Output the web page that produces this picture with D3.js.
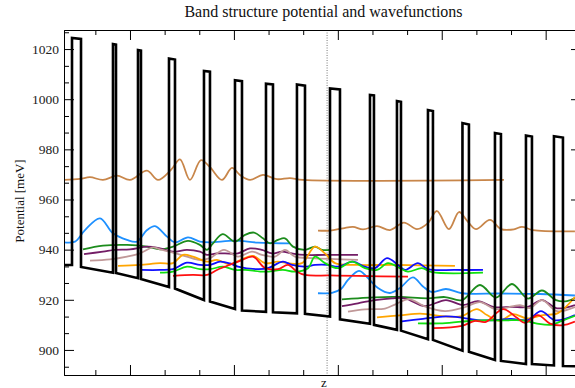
<!DOCTYPE html>
<html>
<head>
<meta charset="utf-8">
<script src="https://cdn.jsdelivr.net/npm/d3@7"></script>
<style>
  body { margin: 0; background: #fff; }
  svg { display: block; font-family: "Liberation Serif", "Times New Roman", serif; }
</style>
</head>
<body>
<svg id="chart" width="575" height="388"></svg>
<script>
// Axis ticks (z in nm, potential in meV)
const zTicksMajor = [20, 50, 80, 110, 140];
const zTicksMinor = [10, 30, 40, 60, 70, 90, 100, 120, 130, 150];
const vTicksMajor = [900, 920, 940, 960, 980, 1000, 1020];
const vTicksMinor = [893.3, 906.7, 913.3, 926.7, 933.3, 946.7, 953.3, 966.7, 973.3, 986.7, 993.3, 1006.7, 1013.3, 1026.7];
const interfaceZ = 76.9;

// Conduction band profile [z, V]
const potentialProfile = [
  [0.95, 933.9], [3.26, 933.9], [3.26, 1024.4], [5.86, 1024.0], [5.86, 933.1],
  [15.09, 930.8], [15.09, 1022.0], [15.96, 1021.8], [15.96, 930.7],
  [22.31, 928.6], [22.31, 1019.6], [23.17, 1019.4], [23.17, 928.3],
  [31.26, 925.1], [31.26, 1016.2], [32.99, 1015.8], [32.99, 924.5],
  [41.36, 919.9], [41.36, 1011.3], [43.09, 1011.0], [43.09, 919.3],
  [50.31, 916.3], [50.31, 1007.6], [52.33, 1007.2], [52.33, 915.7],
  [59.26, 915.2], [59.26, 1006.2], [61.28, 1005.9], [61.28, 915.0],
  [68.20, 914.6], [68.20, 1005.9], [70.52, 1005.4], [70.52, 914.4],
  [77.74, 913.3], [77.74, 1004.3], [80.62, 1003.9], [80.62, 912.2],
  [89.28, 910.4], [89.28, 1001.7], [90.43, 1001.5], [90.43, 910.0],
  [97.07, 908.0], [97.07, 999.3], [98.23, 999.0], [98.23, 907.7],
  [106.02, 904.3], [106.02, 995.7], [107.46, 995.3], [107.46, 904.0],
  [115.98, 899.7], [115.98, 990.5], [117.85, 989.9], [117.85, 899.3],
  [125.36, 896.0], [125.36, 986.5], [127.09, 986.1], [127.09, 895.6],
  [134.31, 894.4], [134.31, 985.5], [136.04, 985.1], [136.04, 894.4],
  [142.39, 893.8], [142.39, 985.2], [144.99, 984.7], [144.99, 893.6],
  [150.2, 893.4]
];

// Wavefunctions, left group
const leftBrown = [[0.95, 967.8], [5.57, 968.2], [8.45, 968.9], [12.20, 967.8], [16.25, 969.5], [20.0, 967.8],
  [24.91, 971.5], [28.08, 967.8], [31.83, 971.8], [34.43, 976.0], [37.32, 967.8], [40.49, 975.7], [43.09, 972.9],
  [46.55, 967.8], [49.44, 972.6], [51.75, 969.8], [54.64, 967.8], [58.39, 969.8], [62.43, 968.1], [66.18, 968.5],
  [69.94, 967.8], [127.96, 967.8]];
const leftSky = [[0.95, 942.9], [4.12, 943.2], [7.01, 947.8], [11.34, 952.5], [15.09, 946.5], [19.13, 943.9],
  [22.02, 943.2], [24.91, 947.8], [27.22, 949.4], [30.68, 945.2], [32.99, 942.9], [36.74, 944.9], [40.20, 943.2],
  [43.09, 942.9], [50.31, 943.6], [56.95, 942.8], [66.18, 942.5]];
const leftGreen = [[6.43, 940.1], [12.20, 941.6], [19.13, 941.9], [24.91, 941.2], [28.66, 940.1], [32.41, 941.2],
  [36.74, 943.5], [40.20, 941.9], [42.23, 939.9], [43.96, 942.5], [46.76, 946.2], [50.31, 943.2], [53.20, 945.9],
  [55.79, 946.8], [58.39, 944.5], [60.41, 942.5], [62.72, 943.9], [64.74, 944.5], [67.05, 941.2], [70.52, 939.9],
  [73.40, 941.2], [75.42, 939.9], [77.73, 939.9]];
const leftPurple = [[6.72, 938.2], [12.20, 939.2], [15.67, 939.9], [20.00, 940.1], [25.19, 941.2], [28.66, 940.5],
  [32.41, 939.2], [36.45, 939.9], [40.20, 939.2], [42.23, 937.9], [45.11, 938.5], [47.42, 938.5], [51.18, 938.5],
  [54.64, 940.5], [58.10, 939.9], [61.01, 938.5], [63.88, 939.2], [66.76, 938.5], [70.52, 937.9], [76.29, 937.9],
  [85.81, 937.9]];
const leftRose = [[8.45, 935.6], [14.22, 936.1], [19.13, 937.2], [22.89, 938.5], [26.64, 940.9], [28.66, 940.1],
  [32.41, 938.8], [36.45, 937.2], [40.20, 935.9], [43.09, 936.6], [47.13, 939.9], [51.17, 937.2], [55.21, 939.2],
  [58.10, 937.9], [61.86, 937.2], [64.74, 939.9], [67.63, 937.2], [72.53, 936.6], [85.81, 935.9]];
const leftOrange = [[16.53, 933.5], [22.89, 933.9], [28.66, 934.6], [32.41, 934.6], [35.30, 937.9], [38.18, 937.2],
  [42.23, 935.2], [45.11, 935.9], [48.86, 934.1], [50.89, 935.2], [55.50, 937.5], [58.97, 934.6], [62.72, 935.2],
  [65.61, 934.6], [69.65, 934.6], [73.40, 941.2], [76.29, 938.5], [79.18, 934.6], [85.81, 933.9], [96.49, 933.9],
  [113.81, 933.5]];
const leftBlue = [[23.38, 931.9], [28.66, 931.9], [32.41, 932.2], [36.45, 934.8], [40.20, 933.9], [43.09, 933.9],
  [45.98, 935.2], [48.86, 934.5], [51.17, 933.2], [56.95, 932.2], [59.83, 932.6], [64.16, 935.2], [66.76, 933.9],
  [70.52, 933.2], [73.40, 933.9], [77.15, 933.9], [80.04, 933.2], [84.37, 935.2], [87.83, 933.2], [90.72, 932.6],
  [94.18, 936.6], [97.36, 933.9], [99.38, 931.9], [103.13, 934.6], [106.02, 932.2], [113.81, 931.9], [121.90, 931.9]];
const leftLime = [[28.66, 930.8], [32.41, 931.2], [36.45, 933.2], [40.20, 932.2], [43.09, 932.2], [46.84, 933.2],
  [50.31, 931.9], [53.20, 931.9], [58.97, 931.2], [64.16, 931.9], [67.63, 931.2], [71.38, 932.6], [73.40, 937.2],
  [76.29, 934.6], [80.04, 932.6], [84.08, 935.2], [87.83, 932.6], [91.30, 931.9], [94.47, 934.6], [97.94, 932.6],
  [100.25, 931.2], [104.29, 932.6], [107.17, 931.0], [121.90, 930.8]];
const leftRed = [[32.41, 929.5], [38.18, 929.9], [42.23, 929.9], [45.11, 931.9], [47.42, 933.2], [51.75, 935.5],
  [55.50, 937.2], [58.97, 932.7], [62.72, 932.2], [65.61, 933.9], [68.20, 931.2], [70.52, 929.9], [77.73, 929.7],
  [85.81, 929.5], [100.25, 929.2]];

// Wavefunctions, right group
const rightBrown = [[74.27, 947.6], [77.73, 947.6], [81.48, 948.5], [84.37, 949.1], [87.26, 948.1], [91.30, 949.4],
  [95.05, 947.8], [99.09, 950.8], [102.84, 948.2], [106.02, 950.6], [108.62, 955.4], [112.08, 948.2], [114.97, 955.0],
  [117.28, 951.6], [119.88, 948.2], [123.92, 951.9], [127.09, 948.2], [130.84, 948.1], [133.16, 949.1], [136.33, 947.8],
  [148.45, 947.3]];
const rightSky = [[74.27, 922.6], [78.31, 922.8], [80.91, 924.3], [82.93, 927.9], [86.10, 931.5], [88.41, 929.1],
  [91.59, 924.7], [95.05, 922.7], [97.94, 924.7], [101.69, 928.9], [104.58, 925.3], [107.17, 923.1], [111.21, 924.3],
  [115.84, 922.6], [126.80, 922.5], [138.35, 922.3], [148.45, 921.7]];
const rightGreen = [[81.19, 920.2], [85.81, 920.6], [90.72, 921.0], [97.94, 921.1], [106.02, 920.6], [110.93, 921.1],
  [115.84, 919.9], [121.03, 925.9], [125.65, 920.9], [130.27, 926.3], [134.88, 920.5], [138.93, 923.7], [142.97, 919.9],
  [146.15, 919.5], [148.45, 920.7]];
const rightPurple = [[81.19, 917.5], [85.81, 918.6], [90.72, 919.9], [95.63, 920.6], [99.38, 920.6], [105.15, 917.5],
  [111.21, 919.9], [116.12, 917.9], [120.45, 919.5], [125.07, 917.1], [130.27, 917.2], [134.88, 917.2], [138.93, 919.9],
  [143.26, 916.6], [148.45, 917.9]];
const rightRose = [[82.93, 915.3], [87.83, 916.2], [93.61, 916.5], [96.78, 918.3], [100.53, 920.3], [104.86, 917.5],
  [110.93, 915.5], [116.70, 917.1], [121.03, 919.1], [125.36, 916.3], [128.25, 916.7], [132.58, 917.9], [135.46, 916.7],
  [138.93, 919.9], [143.26, 915.5], [148.45, 917.1]];
const rightOrange = [[91.30, 913.0], [97.94, 913.8], [103.71, 914.5], [106.60, 914.1], [111.50, 913.3], [115.84, 913.5],
  [120.16, 916.3], [123.05, 913.9], [126.80, 911.6], [130.55, 914.3], [134.60, 912.6], [139.22, 913.9], [143.55, 914.7],
  [148.45, 921.1]];
const rightBlue = [[97.94, 911.3], [104.58, 912.4], [111.21, 913.4], [116.12, 912.8], [120.45, 911.9], [125.65, 911.9],
  [129.98, 912.4], [134.88, 911.9], [138.64, 915.5], [142.68, 911.8], [148.45, 913.9]];
const rightLime = [[103.13, 910.6], [109.48, 910.6], [115.84, 911.3], [121.61, 911.8], [128.25, 911.8], [133.16, 911.8],
  [137.19, 910.6], [141.53, 910.0], [144.70, 911.6], [148.45, 913.6]];
const rightRed = [[107.46, 908.7], [115.84, 909.6], [119.59, 911.6], [122.76, 911.2], [127.67, 916.3], [131.71, 912.8],
  [134.02, 910.8], [137.78, 913.9], [141.24, 910.5], [144.70, 909.8], [148.45, 911.3]];

const stateColors = {
  brown: '#c8864a', sky: '#1e90ff', green: '#1c8c1c', purple: '#731d66', rose: '#c09898',
  orange: '#ffa500', blue: '#1010ff', lime: '#10e010', red: '#ff1010'
};

const wavefunctions = [
  { data: leftBrown, color: stateColors.brown }, { data: rightBrown, color: stateColors.brown },
  { data: leftSky, color: stateColors.sky }, { data: rightSky, color: stateColors.sky },
  { data: leftGreen, color: stateColors.green }, { data: rightGreen, color: stateColors.green },
  { data: leftPurple, color: stateColors.purple }, { data: rightPurple, color: stateColors.purple },
  { data: leftRose, color: stateColors.rose }, { data: rightRose, color: stateColors.rose },
  { data: leftOrange, color: stateColors.orange }, { data: rightOrange, color: stateColors.orange },
  { data: leftBlue, color: stateColors.blue }, { data: rightBlue, color: stateColors.blue },
  { data: leftLime, color: stateColors.lime }, { data: rightLime, color: stateColors.lime },
  { data: leftRed, color: stateColors.red }, { data: rightRed, color: stateColors.red }
];

// Layout
const plot = { left: 64, right: 581, top: 30, bottom: 375 };
const svg = d3.select('#chart');

const x = d3.scaleLinear().domain([0.95, 150.2]).range([plot.left, plot.right]);
const y = d3.scaleLinear().domain([890, 1027.6]).range([plot.bottom, plot.top]);

svg.append('defs').append('clipPath').attr('id', 'plot-clip')
  .append('rect')
  .attr('x', plot.left).attr('y', plot.top)
  .attr('width', plot.right - plot.left).attr('height', plot.bottom - plot.top);

const marks = svg.append('g').attr('clip-path', 'url(#plot-clip)');

// Dotted marker line
marks.append('line')
  .attr('x1', x(interfaceZ)).attr('x2', x(interfaceZ))
  .attr('y1', plot.top).attr('y2', plot.bottom)
  .attr('stroke', '#777').attr('stroke-width', 1).attr('stroke-dasharray', '1,1.5');

const waveLine = d3.line()
  .x(d => x(d[0])).y(d => y(d[1]))
  .curve(d3.curveCatmullRom.alpha(0.5));

marks.selectAll('.psi')
  .data(wavefunctions)
  .enter()
  .append('path')
  .attr('class', 'psi')
  .attr('d', d => waveLine(d.data))
  .attr('fill', 'none')
  .attr('stroke', d => d.color)
  .attr('stroke-width', 1.8);

const bandLine = d3.line().x(d => x(d[0])).y(d => y(d[1]));

marks.append('path')
  .attr('d', bandLine(potentialProfile))
  .attr('fill', 'none')
  .attr('stroke', '#000')
  .attr('stroke-width', 2.6)
  .attr('stroke-linejoin', 'miter');

// Axes: ticks point inward on all four sides
function drawAxis(axis, transform, withLabels) {
  const g = svg.append('g').attr('transform', transform).call(axis);
  g.selectAll('path.domain').attr('stroke', '#000');
  g.selectAll('.tick line').attr('stroke', '#000');
  g.selectAll('text')
    .attr('font-family', '"Liberation Serif", "Times New Roman", serif')
    .attr('font-size', 13.5)
    .attr('fill', '#222');
  if (!withLabels) g.selectAll('text').remove();
  return g;
}

drawAxis(d3.axisLeft(y).tickValues(vTicksMajor).tickSize(-10).tickSizeOuter(0).tickPadding(5).tickFormat(d3.format('d')),
  `translate(${plot.left},0)`, true);
drawAxis(d3.axisLeft(y).tickValues(vTicksMinor).tickSize(-5).tickSizeOuter(0), `translate(${plot.left},0)`, false);
drawAxis(d3.axisRight(y).tickValues(vTicksMajor).tickSize(-10).tickSizeOuter(0), `translate(${plot.right},0)`, false);
drawAxis(d3.axisRight(y).tickValues(vTicksMinor).tickSize(-5).tickSizeOuter(0), `translate(${plot.right},0)`, false);
drawAxis(d3.axisBottom(x).tickValues(zTicksMajor).tickSize(-10).tickSizeOuter(0), `translate(0,${plot.bottom})`, false);
drawAxis(d3.axisBottom(x).tickValues(zTicksMinor).tickSize(-5).tickSizeOuter(0), `translate(0,${plot.bottom})`, false);
drawAxis(d3.axisTop(x).tickValues(zTicksMajor).tickSize(-10).tickSizeOuter(0), `translate(0,${plot.top})`, false);
drawAxis(d3.axisTop(x).tickValues(zTicksMinor).tickSize(-5).tickSizeOuter(0), `translate(0,${plot.top})`, false);

// Titles
svg.append('text')
  .attr('x', 323.5).attr('y', 16.5)
  .attr('text-anchor', 'middle')
  .attr('font-size', 16)
  .attr('fill', '#111')
  .text('Band structure potential and wavefunctions');

svg.append('text')
  .attr('transform', 'translate(24,201) rotate(-90)')
  .attr('text-anchor', 'middle')
  .attr('font-size', 13)
  .attr('fill', '#111')
  .text('Potential [meV]');

svg.append('text')
  .attr('x', 324).attr('y', 386.5)
  .attr('text-anchor', 'middle')
  .attr('font-size', 13)
  .attr('fill', '#111')
  .text('z');
</script>
</body>
</html>
